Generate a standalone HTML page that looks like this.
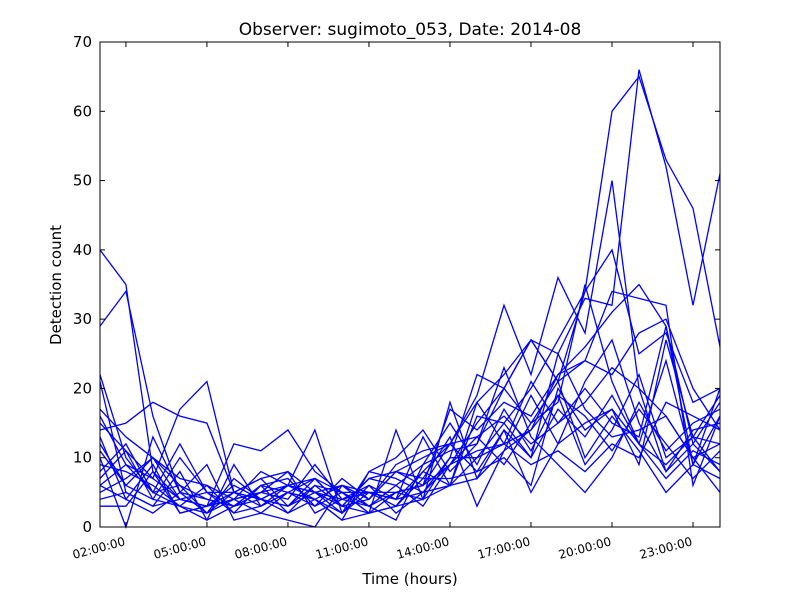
<!DOCTYPE html>
<html><head><meta charset="utf-8"><style>
body{margin:0;background:#fff;font-family:"DejaVu Sans","Liberation Sans",sans-serif}
svg{display:block}
</style></head><body>
<svg id="chart" width="800" height="600">
<rect width="800" height="600" fill="#fff"/>
<text x="410" y="35" font-size="17" text-anchor="middle">Observer: sugimoto_053, Date: 2014-08</text>
<text x="410" y="584" font-size="15" text-anchor="middle">Time (hours)</text>
<text x="61" y="285" font-size="15" text-anchor="middle" transform="rotate(-90 61 285)">Detection count</text>
<g id="series"></g>
<g id="axes"></g>
</svg>
<script>
const hours=[1.04,2,3,4,5,6,7,8,9,10,11,12,13,14,15,16,17,18,19,20,21,22,23,24];
const xTickHours=[2,5,8,11,14,17,20,23];
const xTickLabels=["02:00:00","05:00:00","08:00:00","11:00:00","14:00:00","17:00:00","20:00:00","23:00:00"];
const yTicks=[0,10,20,30,40,50,60,70];
const s1=[40,35,8,4,3,5,4,3,6,5,2,3,4,6,10,15,20,27,34,60,65,53,46,26];
const s2=[29,34,16,5,4,3,6,5,4,2,5,4,8,12,18,22,27,25,33,32,66,52,32,51];
const s3=[22,10,5,12,5,3,4,6,7,3,2,5,6,9,15,20,27,21,34,40,25,28,18,20];
const s4=[15,11,7,17,21,5,4,6,5,3,4,8,10,12,19,32,22,36,28,50,20,16,10,5];
const s5=[12,6,10,4,3,12,11,14,8,5,3,5,6,17,14,18,16,22,24,34,33,32,6,16];
const s6=[10,0,13,5,2,4,8,6,4,1,8,10,14,8,12,20,27,21,24,22,28,30,20,14];
const s7=[8,12,5,3,1,3,5,4,9,4,6,4,13,6,18,12,14,22,26,31,35,29,9,16];
const s8=[6,9,7,4,5,2,3,6,14,2,8,7,5,10,22,20,15,18,35,21,12,24,9,7];
const s9=[5,7,10,6,2,5,7,8,5,4,3,6,9,15,9,17,11,19,9,14,22,10,13,12];
const s10=[4,5,3,8,1,9,3,5,3,5,2,14,4,18,7,14,5,12,21,27,15,8,12,18];
const s11=[3,3,8,2,3,4,2,1,0,6,5,3,7,13,3,11,19,12,15,17,9,27,13,8];
const s12=[16,9,5,6,4,3,6,2,4,6,3,1,9,11,12,23,13,9,5,10,18,11,15,17];
const s13=[14,15,18,16,15,5,3,5,7,3,7,8,6,12,13,9,15,21,10,16,11,5,9,20];
const s14=[11,6,4,3,6,2,6,7,3,7,4,9,11,12,8,14,10,25,17,13,14,16,10,12];
const s15=[7,11,4,10,5,5,7,3,5,2,6,2,5,6,16,15,10,17,13,19,12,7,11,9];
const s16=[9,8,6,3,2,7,4,2,6,3,7,6,3,9,11,12,21,15,20,15,13,29,12,8];
const s17=[13,4,9,2,3,4,5,8,2,4,5,5,4,10,10,12,9,11,8,12,10,18,16,14];
const s18=[6,4,2,5,9,1,2,5,4,1,2,3,8,6,7,11,14,19,16,11,17,12,7,11];
const s19=[21,5,3,4,3,6,4,3,7,5,5,4,5,9,13,16,12,15,18,23,20,8,14,15];
const s20=[17,13,10,7,6,4,5,6,5,6,4,8,7,7,8,10,6,20,14,17,12,9,13,19];
const allSeries=[s1,s2,s3,s4,s5,s6,s7,s8,s9,s10,s11,s12,s13,s14,s15,s16,s17,s18,s19,s20];

const L=100,R=720,T=42,B=527,xmin=1.04,xmax=24,ymin=0,ymax=70;
function xs(h){return L+(h-xmin)/(xmax-xmin)*(R-L);}
function ys(v){return B-(v-ymin)/(ymax-ymin)*(B-T);}
const NS="http://www.w3.org/2000/svg";
const sg=document.getElementById('series');
allSeries.forEach((s,i)=>{
  const p=document.createElementNS(NS,'polyline');
  p.setAttribute('points',s.map((v,j)=>xs(hours[j]).toFixed(1)+','+ys(v).toFixed(1)).join(' '));
  p.setAttribute('fill','none');p.setAttribute('stroke','#0000ff');p.setAttribute('stroke-width','1.3');
  
  
  sg.appendChild(p);
});
const ag=document.getElementById('axes');
const fr=document.createElementNS(NS,'rect');
fr.setAttribute('x',L);fr.setAttribute('y',T);fr.setAttribute('width',R-L);fr.setAttribute('height',B-T);
fr.setAttribute('fill','none');fr.setAttribute('stroke','#000');fr.setAttribute('stroke-width','1');


ag.appendChild(fr);
yTicks.forEach(v=>{
  const y=ys(v);
  [[L,L+5],[R,R-5]].forEach(([a,b])=>{
    const l=document.createElementNS(NS,'line');
    l.setAttribute('x1',a);l.setAttribute('x2',b);l.setAttribute('y1',y);l.setAttribute('y2',y);l.setAttribute('stroke','#000');
    
    
    ag.appendChild(l);
  });
  const t=document.createElementNS(NS,'text');
  t.setAttribute('x',L-8);t.setAttribute('y',y+5);t.setAttribute('text-anchor','end');t.setAttribute('font-size','15');
  t.textContent=v;
  
  
  ag.appendChild(t);
});
xTickHours.forEach((h,i)=>{
  const x=xs(h);
  [[T,T+5],[B,B-5]].forEach(([a,b])=>{
    const l=document.createElementNS(NS,'line');
    l.setAttribute('x1',x);l.setAttribute('x2',x);l.setAttribute('y1',a);l.setAttribute('y2',b);l.setAttribute('stroke','#000');
    
    
    ag.appendChild(l);
  });
  const t=document.createElementNS(NS,'text');
  t.setAttribute('x',x);t.setAttribute('y',B+18);t.setAttribute('text-anchor','end');t.setAttribute('font-size','12');
  t.setAttribute('transform','rotate(-15 '+x+' '+(B+18)+')');
  t.textContent=xTickLabels[i];
  
  
  ag.appendChild(t);
});
</script>
</body></html>
